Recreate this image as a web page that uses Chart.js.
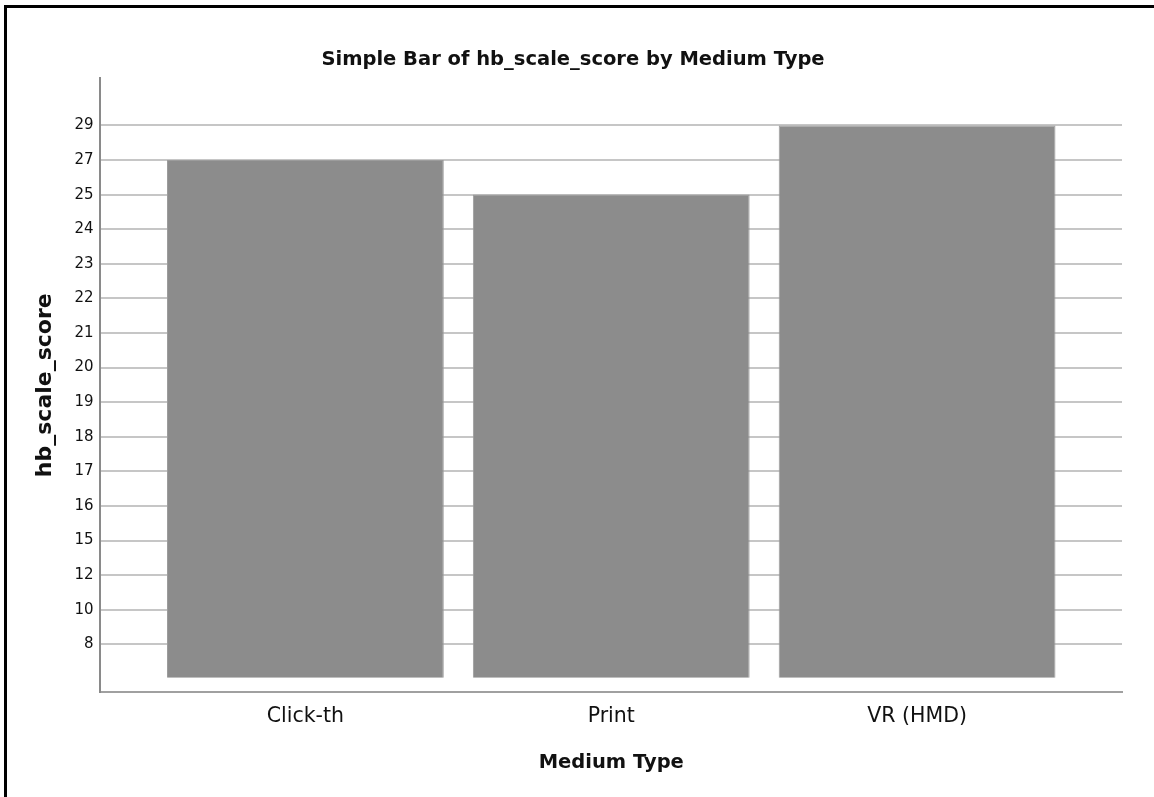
<!DOCTYPE html>
<html lang="en">

<head>
    <meta charset="UTF-8">
    <script src="https://cdn.jsdelivr.net/npm/chart.js"></script>
    <title>Simple Bar of hb_scale_score by Medium Type</title>
    <style>
        body { margin: 0; background: #fff; }
        #wrap { position: relative; width: 1154px; height: 797px; overflow: hidden; }
        #frame { position: absolute; left: 4px; top: 5px; width: 1200px; height: 850px;
                 border-top: 3px solid #000; border-left: 3px solid #000; pointer-events: none; }
    </style>
    <script>
        // categories and values
        let categories = ['Click-th', 'Print', 'VR (HMD)'];
        let scores = [27, 25, 29];
        // the y axis shows these values evenly spaced (like categories)
        let yTicks = ['8', '10', '12', '15', '16', '17', '18', '19', '20', '21', '22', '23', '24', '25', '27', '29'];

        window.onload = function () {
            let ctx = document.getElementById("myChart");
            let font = "'DejaVu Sans', sans-serif";

            // position of each score on the evenly spaced axis
            let points = [];
            for (let i in scores) {
                points.push({ x: Number(i), y: yTicks.indexOf(String(scores[i])) + 1 });
            }

            let configs = {
                type: 'bar'
                , data: {
                    datasets: [{
                        data: points
                        , backgroundColor: '#8c8c8c'
                        , borderColor: '#9c9c9c'
                        , borderWidth: 1
                        , barPercentage: 0.905
                        , categoryPercentage: 1.0
                    }]
                }
                , options: {
                    responsive: false
                    , animation: false
                    , devicePixelRatio: 1
                    , layout: { padding: { left: 24, right: 32, bottom: 22, top: 0 } }
                    , plugins: {
                        legend: { display: false }
                        , tooltip: { enabled: false }
                        , title: {
                            display: true
                            , text: 'Simple Bar of hb_scale_score by Medium Type'
                            , color: '#111'
                            , font: { family: font, size: 19.5, weight: 'bold', lineHeight: 1.2 }
                            , padding: { top: 48, bottom: 7 }
                        }
                    }
                    , scales: {
                        x: {
                            type: 'linear'
                            , offset: false
                            , min: -0.67
                            , max: 2.67
                            , grid: { display: false, drawTicks: false }
                            , border: { display: true, color: '#a0a0a0', width: 2 }
                            , ticks: {
                                stepSize: 1
                                , includeBounds: false
                                , autoSkip: false
                                , maxRotation: 0
                                , padding: 12
                                , color: '#111'
                                , font: { family: font, size: 20.5 }
                                , callback: function (v) { return categories[v] !== undefined && Number.isInteger(v) ? categories[v] : ''; }
                            }
                            , title: {
                                display: true
                                , text: 'Medium Type'
                                , color: '#111'
                                , font: { family: font, size: 19.5, weight: 'bold', lineHeight: 1.2 }
                                , padding: { top: 11, bottom: 0 }
                            }
                        }
                        , y: {
                            type: 'linear'
                            , min: -0.38
                            , max: 17.36
                            , grid: {
                                drawTicks: false
                                , lineWidth: 2
                                , color: function (c) {
                                    let v = c.tick ? c.tick.value : 0;
                                    return (v >= 1 && v <= yTicks.length) ? '#c6c6c6' : 'rgba(0,0,0,0)';
                                }
                            }
                            , border: { display: true, color: '#8a8a8a', width: 2 }
                            , ticks: {
                                stepSize: 1
                                , includeBounds: false
                                , autoSkip: false
                                , padding: 7
                                , color: '#111'
                                , font: { family: font, size: 15 }
                                , callback: function (v) { return (v >= 1 && v <= yTicks.length) ? yTicks[v - 1] : ''; }
                            }
                            , title: {
                                display: true
                                , text: 'hb_scale_score'
                                , color: '#111'
                                , font: { family: font, size: 22, weight: 'bold', lineHeight: 1.2 }
                                , padding: { top: 8, bottom: 9 }
                            }
                        }
                    }
                }
            }
            let myChart = new Chart(ctx, configs);
        };
    </script>
</head>

<body>
    <div id="wrap">
        <canvas id="myChart" width="1154" height="797"></canvas>
        <div id="frame"></div>
    </div>
</body>

</html>
